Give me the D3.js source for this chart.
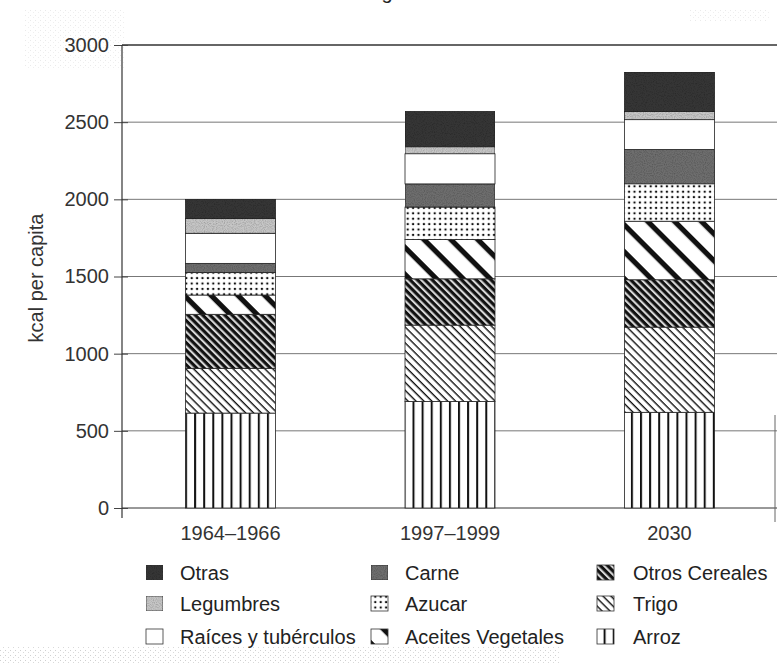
<!DOCTYPE html>
<html>
<head>
<meta charset="utf-8">
<script src="https://cdn.jsdelivr.net/npm/d3@7"></script>
<style>
  html, body { margin: 0; padding: 0; background: #fff; }
  svg { display: block; font-family: "Liberation Sans", Arial, Helvetica, sans-serif; }
</style>
</head>
<body>
<svg id="chart" width="777" height="664"></svg>
<script>
// ---- data (kcal per capita) ----
const categories = ["1964–1966", "1997–1999", "2030"];
const arroz         = [615, 690, 620];
const trigo         = [290, 495, 552];
const otrosCereales = [350, 300, 307];
const aceites       = [125, 255, 379];
const azucar        = [145, 210, 242];
const carne         = [60, 150, 223];
const raices        = [195, 195, 193];
const legumbres     = [95, 45, 53];
const otras         = [125, 230, 256];
const yTicks = [0, 500, 1000, 1500, 2000, 2500, 3000];
const seriesNames = ["Arroz", "Trigo", "Otros Cereales", "Aceites Vegetales", "Azucar",
                     "Carne", "Raíces y tubérculos", "Legumbres", "Otras"];
const seriesValues = [arroz, trigo, otrosCereales, aceites, azucar, carne, raices, legumbres, otras];
const legendRows = [
  ["Otras", "Carne", "Otros Cereales"],
  ["Legumbres", "Azucar", "Trigo"],
  ["Raíces y tubérculos", "Aceites Vegetales", "Arroz"]
];

const table = categories.map((c, i) => {
  const row = { cat: c };
  seriesNames.forEach((s, k) => row[s] = seriesValues[k][i]);
  return row;
});

const svg = d3.select("#chart");
const defs = svg.append("defs");

// ---- fills / patterns ----
function linePattern(id, spacing, width, angle, bg) {
  const p = defs.append("pattern").attr("id", id)
    .attr("patternUnits", "userSpaceOnUse")
    .attr("width", 20).attr("height", spacing)
    .attr("patternTransform", `rotate(${angle})`);
  p.append("rect").attr("width", 20).attr("height", spacing).attr("fill", bg || "#fff");
  p.append("rect").attr("y", 0).attr("width", 20).attr("height", width).attr("fill", "#111");
}
// vertical lines (Arroz)
(function () {
  const p = defs.append("pattern").attr("id", "p-arroz")
    .attr("patternUnits", "userSpaceOnUse").attr("width", 9.1).attr("height", 10).attr("x", 3);
  p.append("rect").attr("width", 9.1).attr("height", 10).attr("fill", "#fff");
  p.append("rect").attr("x", 0).attr("width", 2).attr("height", 10).attr("fill", "#111");
})();
linePattern("p-trigo", 5.6, 1.4, 45);
linePattern("p-oc", 5.2, 3.1, 45, "#d8d8d8");
linePattern("p-aceites", 19, 5.2, 45);
// dots (Azucar)
(function () {
  const p = defs.append("pattern").attr("id", "p-azucar")
    .attr("patternUnits", "userSpaceOnUse").attr("width", 5.4).attr("height", 5.4);
  p.append("rect").attr("width", 5.4).attr("height", 5.4).attr("fill", "#fff");
  p.append("circle").attr("cx", 2.7).attr("cy", 2.7).attr("r", 1.2).attr("fill", "#111");
})();
// grain filter for the grey tones
const f = defs.append("filter").attr("id", "grain").attr("x", 0).attr("y", 0).attr("width", 1).attr("height", 1);
f.append("feTurbulence").attr("type", "fractalNoise").attr("baseFrequency", 0.9).attr("numOctaves", 1).attr("seed", 3).attr("result", "n");
f.append("feColorMatrix").attr("in", "n").attr("type", "matrix")
  .attr("values", "0 0 0 0 0  0 0 0 0 0  0 0 0 0 0  0 0 0 -0.9 0.55").attr("result", "a");
f.append("feComposite").attr("in", "a").attr("in2", "SourceGraphic").attr("operator", "atop");

// scan speckle pattern for background
(function () {
  const p = defs.append("pattern").attr("id", "p-speck")
    .attr("patternUnits", "userSpaceOnUse").attr("width", 5).attr("height", 5);
  p.append("rect").attr("x", 0).attr("y", 0).attr("width", 1).attr("height", 1).attr("fill", "#c4c4c4");
  p.append("rect").attr("x", 3).attr("y", 2).attr("width", 1).attr("height", 1).attr("fill", "#d0d0d0");
})();

const fills = {
  "Arroz": "url(#p-arroz)",
  "Trigo": "url(#p-trigo)",
  "Otros Cereales": "url(#p-oc)",
  "Aceites Vegetales": "url(#p-aceites)",
  "Azucar": "url(#p-azucar)",
  "Carne": "#6e6e6e",
  "Raíces y tubérculos": "#fff",
  "Legumbres": "#c6c6c6",
  "Otras": "#363636"
};
const grainy = new Set(["Carne", "Legumbres", "Otras"]);

// background scan speckle
svg.append("rect").attr("x", 0).attr("y", 646).attr("width", 560).attr("height", 18)
  .attr("fill", "url(#p-speck)").attr("opacity", 0.8);
svg.append("rect").attr("x", 25).attr("y", 8).attr("width", 100).attr("height", 60)
  .attr("fill", "url(#p-speck)").attr("opacity", 0.35);
svg.append("rect").attr("x", 690).attr("y", 10).attr("width", 80).attr("height", 12)
  .attr("fill", "url(#p-speck)").attr("opacity", 0.35);

// cut-off title fragment at top
svg.append("text").attr("x", 387).attr("y", -1).attr("text-anchor", "middle")
  .attr("font-size", 20).attr("fill", "#222").text("g");

// ---- scales ----
const y = d3.scaleLinear().domain([0, 3000]).range([508, 45]);
const x = d3.scalePoint().domain(categories).range([230.5, 669.5]);
const barW = x.step() * 0.41;
const axisX = 122;

// grid lines
svg.append("g").selectAll("line").data(yTicks).join("line")
  .attr("x1", axisX).attr("x2", 777)
  .attr("y1", d => y(d)).attr("y2", d => y(d))
  .attr("stroke", d => (d === 3000 || d === 0) ? "#333" : "#777")
  .attr("stroke-width", d => d === 3000 ? 1.4 : 1);

// y axis
const yAxis = d3.axisLeft(y).tickValues(yTicks).tickSize(8).tickPadding(5).tickFormat(d3.format("d"));
const gy = svg.append("g").attr("transform", `translate(${axisX},0)`).call(yAxis);
gy.select(".domain").remove();
gy.append("line").attr("x1", 0).attr("x2", 0).attr("y1", y(3000)).attr("y2", 518)
  .attr("stroke", "#333").attr("stroke-width", 1.2);
gy.selectAll(".tick line").attr("stroke", "#444").attr("x1", 6);
gy.selectAll(".tick text").attr("font-size", 20).attr("fill", "#333")
  .attr("font-family", "\"Liberation Sans\", Arial, sans-serif");

// right edge line
svg.append("line").attr("x1", 775).attr("x2", 775).attr("y1", 415).attr("y2", 522)
  .attr("stroke", "#666").attr("stroke-width", 1);

// y label
svg.append("text")
  .attr("transform", "translate(43,278) rotate(-90)")
  .attr("text-anchor", "middle").attr("font-size", 20).attr("fill", "#333")
  .text("kcal per capita");

// ---- stacked bars ----
const stack = d3.stack().keys(seriesNames)(table);
const gBars = svg.append("g");
stack.forEach(layer => {
  const name = layer.key;
  gBars.append("g").selectAll("rect").data(layer).join("rect")
    .attr("x", d => x(d.data.cat) - barW / 2)
    .attr("width", barW)
    .attr("y", d => y(d[1]))
    .attr("height", d => y(d[0]) - y(d[1]))
    .attr("fill", fills[name])
    .attr("filter", grainy.has(name) ? "url(#grain)" : null)
    .attr("stroke", "#222").attr("stroke-width", 0.8);
});

// x labels
svg.append("g").selectAll("text").data(categories).join("text")
  .attr("x", d => x(d)).attr("y", 540).attr("text-anchor", "middle")
  .attr("font-size", 20).attr("fill", "#333").text(d => d);

// ---- legend ----
const colText = [180, 405, 633];
const colBox = [146, 371, 597];
const rowBase = [580, 611, 644];
const lg = svg.append("g");
legendRows.forEach((row, r) => {
  row.forEach((name, c) => {
    lg.append("rect")
      .attr("x", colBox[c]).attr("y", rowBase[r] - 15)
      .attr("width", 17).attr("height", 15)
      .attr("fill", fills[name])
      .attr("filter", grainy.has(name) ? "url(#grain)" : null)
      .attr("stroke", "#333").attr("stroke-width", 0.8);
    lg.append("text").attr("x", colText[c]).attr("y", rowBase[r])
      .attr("font-size", 20).attr("fill", "#222").text(name);
  });
});
</script>
</body>
</html>
